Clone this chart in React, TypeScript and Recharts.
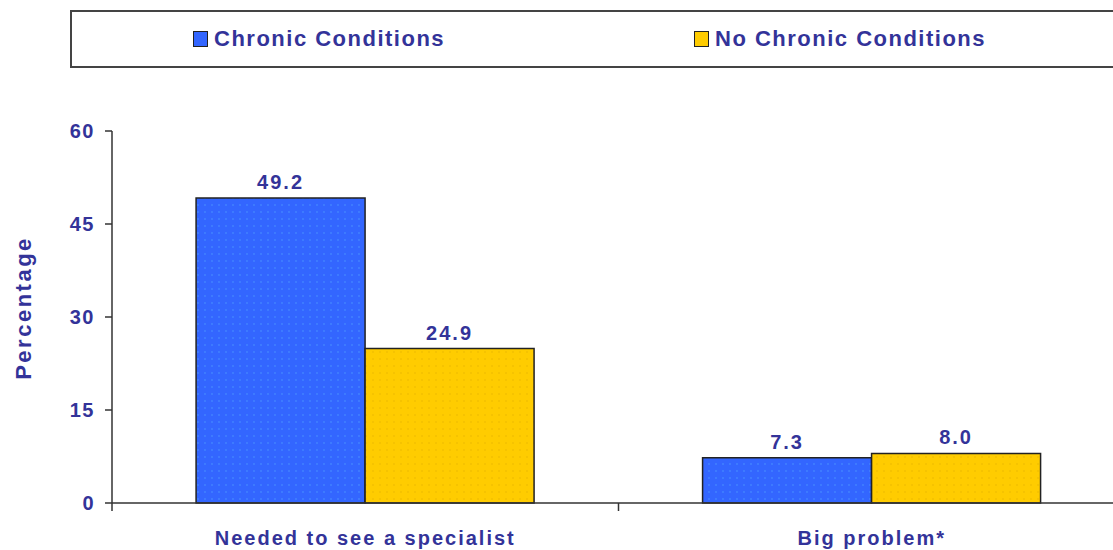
import { BarChart, Bar, XAxis, YAxis, LabelList, Label } from 'recharts'

const categories = ['Needed to see a specialist', 'Big problem*']
const chronicValues = [49.2, 7.3]
const noChronicValues = [24.9, 8.0]
const yTicks = [0, 15, 30, 45, 60]
const seriesNames = ['Chronic Conditions', 'No Chronic Conditions']

const NAVY = '#333399'
const BLUE = '#3366ff'
const YELLOW = '#ffcc00'
const FONT = '"Liberation Sans", Arial, sans-serif'

const chartData = categories.map((name, i) => ({
  name,
  chronic: chronicValues[i],
  noChronic: noChronicValues[i],
}))

// tick marks sit on the band boundaries, labels at band centres
const CategoryTick = (props: any) => {
  const { x, y, payload } = props
  const half = payload?.offset ?? 253
  return (
    <g>
      <line x1={x - half} x2={x - half} y1={y - 8} y2={y} stroke="#333" strokeWidth={1.5} />
      <text
        x={x}
        y={y + 34}
        textAnchor="middle"
        fill={NAVY}
        fontSize={20}
        fontWeight="bold"
        letterSpacing={2}
        fontFamily={FONT}
      >
        {payload.value}
      </text>
    </g>
  )
}

const AxisTitle = (props: any) => {
  const { viewBox } = props
  const cy = viewBox.y + viewBox.height / 2 - 9
  return (
    <text
      x={23}
      y={cy}
      transform={`rotate(-90, 23, ${cy})`}
      textAnchor="middle"
      dominantBaseline="central"
      fill={NAVY}
      fontSize={22}
      fontWeight="bold"
      letterSpacing={2.5}
      fontFamily={FONT}
    >
      Percentage
    </text>
  )
}

function LegendBox() {
  const colors = [BLUE, YELLOW]
  const lefts = [193, 694]
  return (
    <div
      style={{
        position: 'absolute',
        left: 70,
        top: 10,
        width: 1060,
        height: 58,
        border: '2px solid #444',
        background: '#fff',
        boxSizing: 'border-box',
      }}
    >
      {seriesNames.map((name, i) => (
        <div
          key={name}
          style={{
            position: 'absolute',
            left: lefts[i] - 72,
            top: 14,
            display: 'flex',
            alignItems: 'center',
            fontFamily: FONT,
            fontSize: 22,
            fontWeight: 'bold',
            letterSpacing: 1.5,
            color: NAVY,
            lineHeight: '26px',
          }}
        >
          <span
            style={{
              display: 'inline-block',
              width: 13,
              height: 14,
              background: colors[i],
              border: '1.5px solid #222',
              marginRight: 6,
            }}
          />
          {name}
        </div>
      ))}
    </div>
  )
}

export default function App() {
  return (
    <div style={{ position: 'relative', width: 1113, height: 550, overflow: 'hidden', background: '#fff' }}>
      <style>{'body{margin:0}'}</style>
      <LegendBox />
      <BarChart
        width={1125}
        height={550}
        data={chartData}
        margin={{ top: 131, right: 0, left: 0, bottom: 0 }}
        barCategoryGap="16.6%"
        barGap={0}
      >
        <defs>
          <pattern id="dotBlue" width="7" height="7" patternUnits="userSpaceOnUse">
            <rect width="7" height="7" fill={BLUE} />
            <circle cx="2" cy="2" r="0.7" fill="#4f9cff" />
          </pattern>
          <pattern id="dotYellow" width="7" height="7" patternUnits="userSpaceOnUse">
            <rect width="7" height="7" fill={YELLOW} />
            <circle cx="2" cy="2" r="0.7" fill="#e8b400" />
          </pattern>
        </defs>
        <XAxis
          dataKey="name"
          height={47}
          stroke="#333"
          strokeWidth={1.5}
          tickLine={false}
          tick={<CategoryTick />}
          interval={0}
        />
        <YAxis
          width={112}
          domain={[0, 60]}
          ticks={yTicks}
          stroke="#333"
          strokeWidth={1.5}
          tickSize={7}
          tickMargin={10}
          tick={{ fill: NAVY, fontSize: 20, fontWeight: 'bold', fontFamily: FONT, letterSpacing: 1.5 }}
        >
          <Label content={<AxisTitle />} />
        </YAxis>
        <Bar dataKey="chronic" name={seriesNames[0]} fill="url(#dotBlue)" stroke="#222" strokeWidth={1.5} isAnimationActive={false}>
          <LabelList
            dataKey="chronic"
            position="top"
            offset={9}
            formatter={(v: any) => Number(v).toFixed(1)}
            fill={NAVY}
            fontSize={20}
            fontWeight="bold"
            fontFamily={FONT}
            letterSpacing={2}
          />
        </Bar>
        <Bar dataKey="noChronic" name={seriesNames[1]} fill="url(#dotYellow)" stroke="#222" strokeWidth={1.5} isAnimationActive={false}>
          <LabelList
            dataKey="noChronic"
            position="top"
            offset={9}
            formatter={(v: any) => Number(v).toFixed(1)}
            fill={NAVY}
            fontSize={20}
            fontWeight="bold"
            fontFamily={FONT}
            letterSpacing={2}
          />
        </Bar>
      </BarChart>
    </div>
  )
}
